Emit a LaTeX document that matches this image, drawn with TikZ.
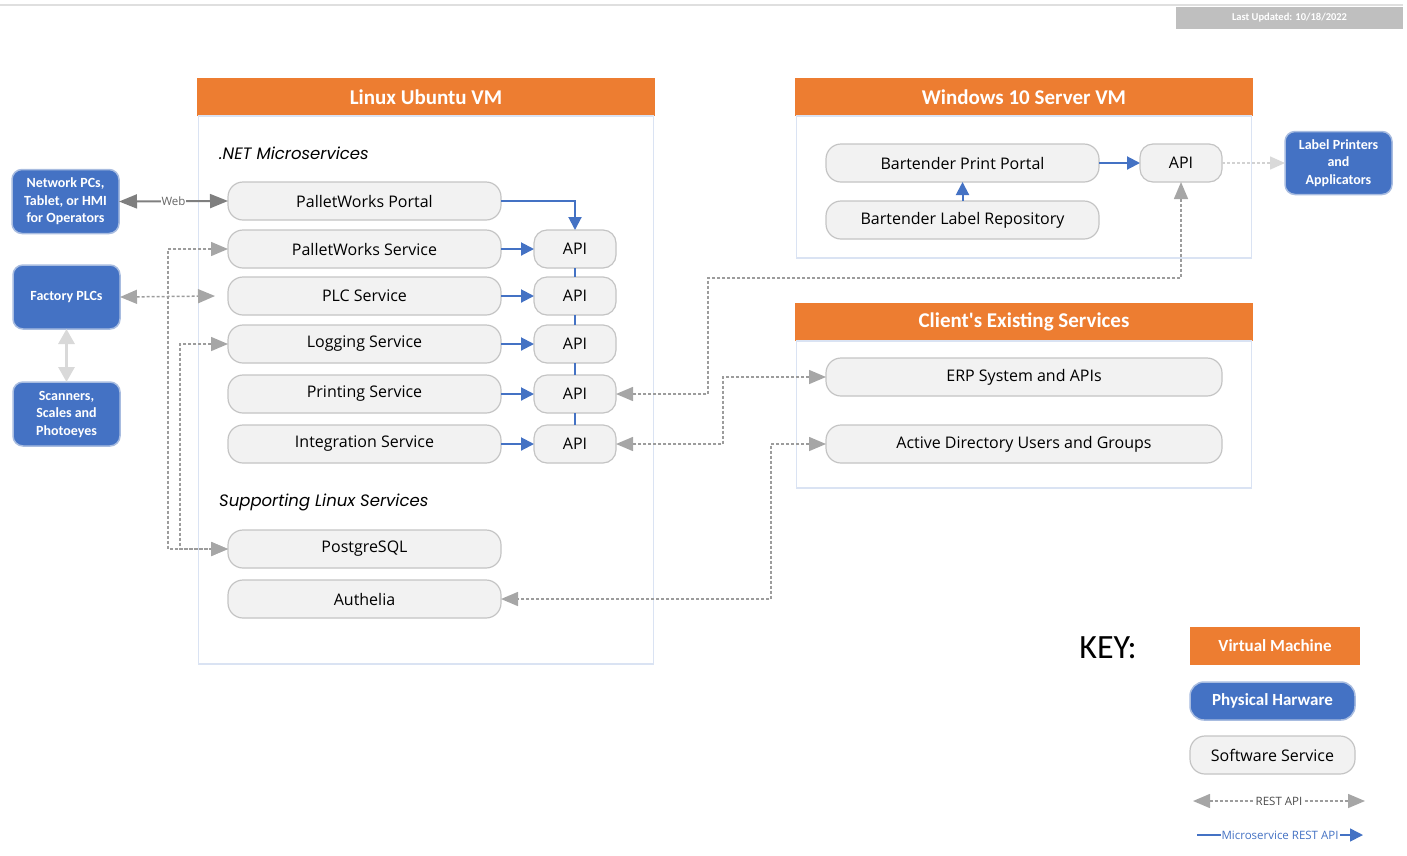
\documentclass[tikz,border=0pt]{standalone}
\usepackage{fontspec}
\setmainfont{Open Sans}
\newfontfamily\calibri{Carlito}
\newfontfamily\gothic{Poppins}
\usetikzlibrary{arrows.meta, positioning, calc}
\definecolor{vmorange}{HTML}{ED7D31}
\definecolor{hwblue}{HTML}{4472C4}
\definecolor{hwline}{HTML}{A8BCE0}
\definecolor{svcfill}{HTML}{F2F2F2}
\definecolor{svcline}{HTML}{C4C4C4}
\definecolor{vmline}{HTML}{DAE3F3}
\definecolor{restgray}{HTML}{A6A6A6}
\definecolor{restline}{HTML}{9C9C9C}
\definecolor{webgray}{HTML}{7F7F7F}
\definecolor{updgray}{HTML}{BFBFBF}
\tikzset{%
	vmhead/.style={fill=vmorange, text=white, minimum width=458pt, minimum height=38pt,%
		inner sep=0pt, outer sep=0pt, font=\calibri\bfseries\fontsize{21}{25}\selectfont},
	vmbody/.style={draw=vmline, line width=1.5pt, minimum width=455pt, inner sep=0pt, outer sep=0pt},
	svc/.style={draw=svcline, fill=svcfill, line width=1.2pt, rounded corners=15pt,%
		minimum width=273pt, minimum height=38pt, inner sep=0pt, outer sep=0pt,%
		font=\fontsize{16}{19}\selectfont},
	api/.style={svc, minimum width=82pt, rounded corners=13pt},
	hw/.style={draw=hwline, fill=hwblue, text=white, line width=1.5pt, rounded corners=10pt,%
		minimum width=107pt, minimum height=64pt, inner sep=0pt, outer sep=0pt, align=center,%
		font=\calibri\bfseries\fontsize{14}{17.5}\selectfont},
	sublabel/.style={anchor=west, inner sep=0pt, font=\gothic\itshape\fontsize{16.5}{20}\selectfont},
	rest/.style={restline, line width=1.5pt, dash pattern=on 3pt off 2pt,%
		>={Triangle[length=17pt, width=14pt, color=restgray]}, <->},
	lightrest/.style={rest, draw=gray!35, >={Triangle[length=15pt, width=13pt, color=gray!30]}, ->},
	micro/.style={hwblue, line width=2pt, >={Triangle[length=13pt, width=13pt]}, ->},
	apibus/.style={hwblue, line width=2pt},
	web/.style={webgray, line width=2pt, >={Triangle[length=18pt, width=14pt]}, <->},
	hwlink/.style={gray!30, line width=3pt, >={Triangle[length=15pt, width=16pt]}, <->},
	linklabel/.style={fill=white, inner sep=1pt, font=\fontsize{11.5}{13}\selectfont}
}
\begin{document}
\begin{tikzpicture}[x=1pt, y=-1pt]
	\useasboundingbox (0,0) rectangle (1407,855);
	\draw[gray!25, line width=2pt] (0,5) -- (1403,5);
	\node[fill=updgray, text=white, minimum width=227pt, minimum height=22pt, inner sep=0pt,%
		font=\calibri\bfseries\fontsize{10.5}{12}\selectfont] (updated) at (1289.5,18) {Last Updated: 10/18/2022};

	% linux vm
	\node[vmhead] (linuxhead) at (426,97) {Linux Ubuntu VM};
	\node[vmbody, minimum height=548pt, below=0pt of linuxhead] (linuxbody) {};
	\node[sublabel] (netlabel) at (219,153) {.NET Microservices};
	\node[svc] (portal) at (364.5,201) {PalletWorks Portal};
	\node[svc, below=10pt of portal] (pwsvc) {PalletWorks Service};
	\node[svc, below=9pt of pwsvc] (plcsvc) {PLC Service};
	\node[svc, below=10pt of plcsvc] (logsvc) {Logging Service};
	\node[svc, below=12pt of logsvc] (printsvc) {Printing Service};
	\node[svc, below=12pt of printsvc] (intsvc) {Integration Service};
	\node[api, right=33pt of pwsvc] (api-pw) {API};
	\node[api, right=33pt of plcsvc] (api-plc) {API};
	\node[api, right=33pt of logsvc] (api-log) {API};
	\node[api, right=33pt of printsvc] (api-print) {API};
	\node[api, right=33pt of intsvc] (api-int) {API};
	\node[sublabel] (suplabel) at (219,502) {Supporting Linux Services};
	\node[svc] (pgsql) at (364.5,549) {PostgreSQL};
	\node[svc, below=12pt of pgsql] (authelia) {Authelia};

	% windows vm
	\node[vmhead] (winhead) at (1024,97) {Windows 10 Server VM};
	\node[vmbody, minimum height=142pt, below=0pt of winhead] (winbody) {};
	\node[svc] (btportal) at (962.5,163) {Bartender Print Portal};
	\node[svc, below=19pt of btportal] (btrepo) {Bartender Label Repository};
	\node[api, right=41pt of btportal] (btapi) {API};
	\node[hw, minimum height=63pt, right=63pt of btapi] (printers) {Label Printers\\and\\Applicators};

	% client services
	\node[vmhead] (clienthead) at (1024,322) {Client's Existing Services};
	\node[vmbody, minimum height=147pt, below=0pt of clienthead] (clientbody) {};
	\node[svc, minimum width=396pt] (erp) at (1024,377) {ERP System and APIs};
	\node[svc, minimum width=396pt] (ad) at (1024,444) {Active Directory Users and Groups};

	% hardware
	\node[hw] (netpc) at (65.5,201.5) {Network PCs,\\Tablet, or HMI\\for Operators};
	\node[hw] (plc) at (66.5,297) {Factory PLCs};
	\node[hw, below=53pt of plc] (scanners) {Scanners,\\Scales and\\Photoeyes};

	% bends
	\coordinate (bend-print) at (708,278);
	\coordinate (bend-int) at (723,444);
	\coordinate (bend-auth) at (771,599);

	% connectors
	\draw[web] (netpc.east) -- node[linklabel, text=webgray!80!black]{Web} (portal.west);
	\draw[hwlink] (plc.south) -- (scanners.north);
	\draw[rest] (plc.east) -- ([xshift=-13pt]plcsvc.west);
	\draw[rest] (pwsvc.west) -- ++(-60,0) |- (pgsql.west);
	\draw[rest] (logsvc.west) -- ++(-48,0) |- (pgsql.west);
	\draw[rest] (btapi.south) |- (bend-print) |- (api-print.east);
	\draw[rest] (erp.west) -| (bend-int) -- (api-int.east);
	\draw[rest] (ad.west) -| (bend-auth) -- (authelia.east);
	\draw[lightrest] (btapi.east) -- (printers.west);

	\draw[micro] (portal.east) -| (api-pw.north);
	\foreach \s/\a in {pwsvc/api-pw, plcsvc/api-plc, logsvc/api-log, printsvc/api-print, intsvc/api-int}
		\draw[micro] (\s) -- (\a);
	\foreach \a/\b in {api-pw/api-plc, api-plc/api-log, api-log/api-print, api-print/api-int}
		\draw[apibus] (\a.south) -- (\b.north);
	\draw[micro] (btrepo.north) -- (btrepo.north |- btportal.south);
	\draw[micro] (btportal) -- (btapi);

	% key
	\node[font=\calibri\fontsize{34}{40}\selectfont] (keylabel) at (1108,648) {KEY:};
	\node[vmhead, minimum width=170pt, font=\calibri\bfseries\fontsize{17}{20}\selectfont] (keyvm) at (1275,646) {Virtual Machine};
	\node[hw, minimum width=165pt, minimum height=38pt, rounded corners=14pt,%
		font=\calibri\bfseries\fontsize{17}{20}\selectfont] (keyhw) at (1272.5,701) {Physical Harware};
	\node[svc, minimum width=165pt] (keysvc) at (1272.5,755) {Software Service};
	\coordinate (keyrest-l) at (1193,801);
	\coordinate (keyrest-r) at (1365,801);
	\draw[rest] (keyrest-l) -- node[linklabel, text=black!70]{REST API} (keyrest-r);
	\coordinate (keymicro-l) at (1197,835);
	\coordinate (keymicro-r) at (1363,835);
	\draw[micro, line width=1.5pt] (keymicro-l) -- node[linklabel, text=hwblue]{Microservice REST API} (keymicro-r);
\end{tikzpicture}
\end{document}
